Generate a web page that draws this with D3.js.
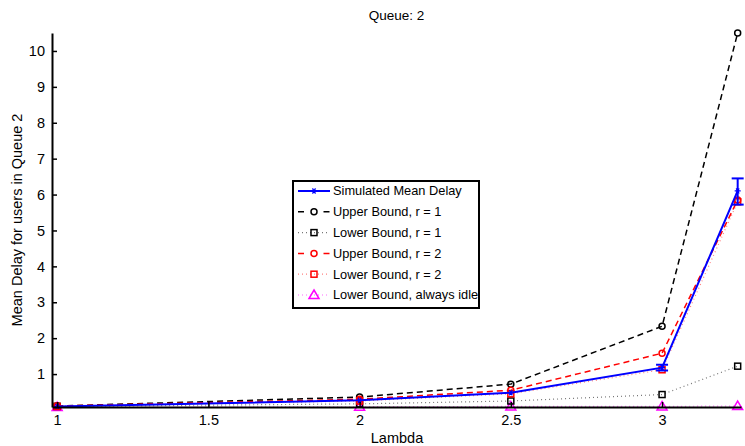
<!DOCTYPE html>
<html>
<head>
<meta charset="utf-8">
<script src="https://cdn.jsdelivr.net/npm/d3@7"></script>
<style>
  body { margin: 0; background: #fff; }
  svg { font-family: "Liberation Sans", Arial, sans-serif; }
</style>
</head>
<body>
<div id="chart"></div>
<script>
// données
const lambdas = [1, 2, 2.5, 3, 3.25];
const simulated = [0.1, 0.27, 0.48, 1.18, 6.1];
const simLow = [0.1, 0.27, 0.46, 1.1, 5.72];
const simHigh = [0.1, 0.28, 0.5, 1.26, 6.45];
const upperR1 = [0.11, 0.36, 0.72, 2.33, 10.5];
const lowerR1 = [0.1, 0.17, 0.25, 0.43, 1.22];
const upperR2 = [0.11, 0.3, 0.55, 1.58, 5.85];
const lowerR2 = [0.1, 0.25, 0.45, 1.12, 5.8];
const alwaysIdle = [0.08, 0.09, 0.1, 0.1, 0.11];
const xTicks = [1, 1.5, 2, 2.5, 3];
const yTicks = [1, 2, 3, 4, 5, 6, 7, 8, 9, 10];

const width = 745, height = 446;
const margin = { left: 52, right: 4, top: 33, bottom: 39 };
const font = "'Liberation Sans', Arial, sans-serif";

const svg = d3.select("#chart").append("svg")
  .attr("width", width)
  .attr("height", height);

const x = d3.scaleLinear()
  .domain([0.983, 3.261])
  .range([margin.left, width - margin.right]);

const y = d3.scaleLinear()
  .domain([0.083, 10.5])
  .range([height - margin.bottom, margin.top]);

// séries
const series = [
  { name: "Simulated Mean Delay", values: simulated, color: "#0000ff", dash: null, marker: "star", width: 2 },
  { name: "Upper Bound, r = 1", values: upperR1, color: "#000", dash: "6,4", marker: "circle", width: 1.5 },
  { name: "Lower Bound, r = 1", values: lowerR1, color: "#777", markerColor: "#000", dash: "1,3", marker: "square", width: 1.2 },
  { name: "Upper Bound, r = 2", values: upperR2, color: "#ff0000", dash: "6,4", marker: "circle", width: 1.5 },
  { name: "Lower Bound, r = 2", values: lowerR2, color: "#ff8080", markerColor: "#ff0000", dash: "1,3", marker: "square", width: 1.2 },
  { name: "Lower Bound, always idle", values: alwaysIdle, color: "#ff66ff", markerColor: "#ff00ff", dash: "1,3", marker: "triangle", width: 1.2 }
];

const line = d3.line()
  .x((d, i) => x(lambdas[i]))
  .y(d => y(d));

function drawMarker(g, type, color, cx, cy) {
  if (type === "circle") {
    g.append("circle").attr("cx", cx).attr("cy", cy).attr("r", 3)
      .attr("fill", "none").attr("stroke", color).attr("stroke-width", 1.5);
  } else if (type === "square") {
    g.append("rect").attr("x", cx - 3).attr("y", cy - 3).attr("width", 6).attr("height", 6)
      .attr("fill", "none").attr("stroke", color).attr("stroke-width", 1.5);
  } else if (type === "triangle") {
    g.append("path").attr("d", `M${cx},${cy - 5}L${cx + 5},${cy + 3.5}L${cx - 5},${cy + 3.5}Z`)
      .attr("fill", "none").attr("stroke", color).attr("stroke-width", 1.5);
  } else if (type === "star") {
    // astérisque façon MATLAB
    const r = 3;
    const p = [0, 60, 120].map(a => {
      const t = a * Math.PI / 180;
      return `M${cx - r * Math.cos(t)},${cy - r * Math.sin(t)}L${cx + r * Math.cos(t)},${cy + r * Math.sin(t)}`;
    }).join("") + `M${cx - r},${cy}L${cx + r},${cy}`;
    g.append("path").attr("d", p).attr("stroke", color).attr("stroke-width", 1.2).attr("fill", "none");
  }
}

const plot = svg.append("g");

// ordre de dessin: bornes d'abord, simulé au-dessus
const order = [5, 2, 1, 4, 3, 0];
order.forEach(k => {
  const s = series[k];
  plot.append("path")
    .datum(s.values)
    .attr("d", line)
    .attr("fill", "none")
    .attr("stroke", s.color)
    .attr("stroke-width", s.width)
    .attr("stroke-dasharray", s.dash);
  const mg = plot.append("g");
  s.values.forEach((v, i) => drawMarker(mg, s.marker, s.markerColor || s.color, x(lambdas[i]), y(v)));
});

// barres d'erreur
const eb = plot.append("g").attr("stroke", "#0000ff").attr("stroke-width", 2);
lambdas.forEach((l, i) => {
  if (simHigh[i] - simLow[i] < 0.05) return;
  eb.append("line").attr("x1", x(l)).attr("x2", x(l)).attr("y1", y(simLow[i])).attr("y2", y(simHigh[i]));
  [simLow[i], simHigh[i]].forEach(v => {
    eb.append("line").attr("x1", x(l) - 6).attr("x2", x(l) + 6).attr("y1", y(v)).attr("y2", y(v));
  });
});

// axes (style MATLAB, graduations vers l'intérieur)
const xAxis = svg.append("g")
  .attr("transform", `translate(0,${height - margin.bottom})`)
  .call(d3.axisBottom(x).tickValues(xTicks).tickSizeInner(-5).tickSizeOuter(0).tickPadding(8)
    .tickFormat(d3.format("")));
const yAxis = svg.append("g")
  .attr("transform", `translate(${margin.left},0)`)
  .call(d3.axisLeft(y).tickValues(yTicks).tickSizeInner(-5).tickSizeOuter(0).tickPadding(7));

[xAxis, yAxis].forEach(a => {
  a.select(".domain").attr("stroke", "#000").attr("stroke-width", 2);
  a.selectAll(".tick line").attr("stroke", "#000").attr("stroke-width", 1.5);
  a.selectAll("text").attr("font-size", 14.5).attr("fill", "#000").attr("font-family", font);
});

svg.append("text")
  .attr("x", (margin.left + width - margin.right) / 2)
  .attr("y", 20)
  .attr("text-anchor", "middle")
  .attr("font-size", 13.5)
  .attr("font-family", font)
  .text("Queue: 2");

svg.append("text")
  .attr("x", 397)
  .attr("y", 443)
  .attr("text-anchor", "middle")
  .attr("font-size", 14.5)
  .attr("font-family", font)
  .text("Lambda");

svg.append("text")
  .attr("transform", `translate(22,${(margin.top + height - margin.bottom) / 2}) rotate(-90)`)
  .attr("text-anchor", "middle")
  .attr("font-size", 14.5)
  .attr("font-family", font)
  .text("Mean Delay for users in Queue 2");

// légende
const legend = svg.append("g").attr("transform", "translate(293,181)");
legend.append("rect")
  .attr("width", 186).attr("height", 127)
  .attr("fill", "#fff").attr("stroke", "#000").attr("stroke-width", 2);

series.forEach((s, i) => {
  const ly = 10 + i * 20.8;
  const g = legend.append("g");
  g.append("line")
    .attr("x1", 5).attr("x2", 37).attr("y1", ly).attr("y2", ly)
    .attr("stroke", s.color).attr("stroke-width", s.width)
    .attr("stroke-dasharray", s.dash ? (s.marker === "circle" ? "6,19.5" : s.dash) : null);
  drawMarker(g, s.marker, s.markerColor || s.color, 21, ly);
  g.append("text")
    .attr("x", 40).attr("y", ly)
    .attr("dy", "0.35em")
    .attr("font-size", 12.8)
    .attr("font-family", font)
    .text(s.name);
});
</script>
</body>
</html>
